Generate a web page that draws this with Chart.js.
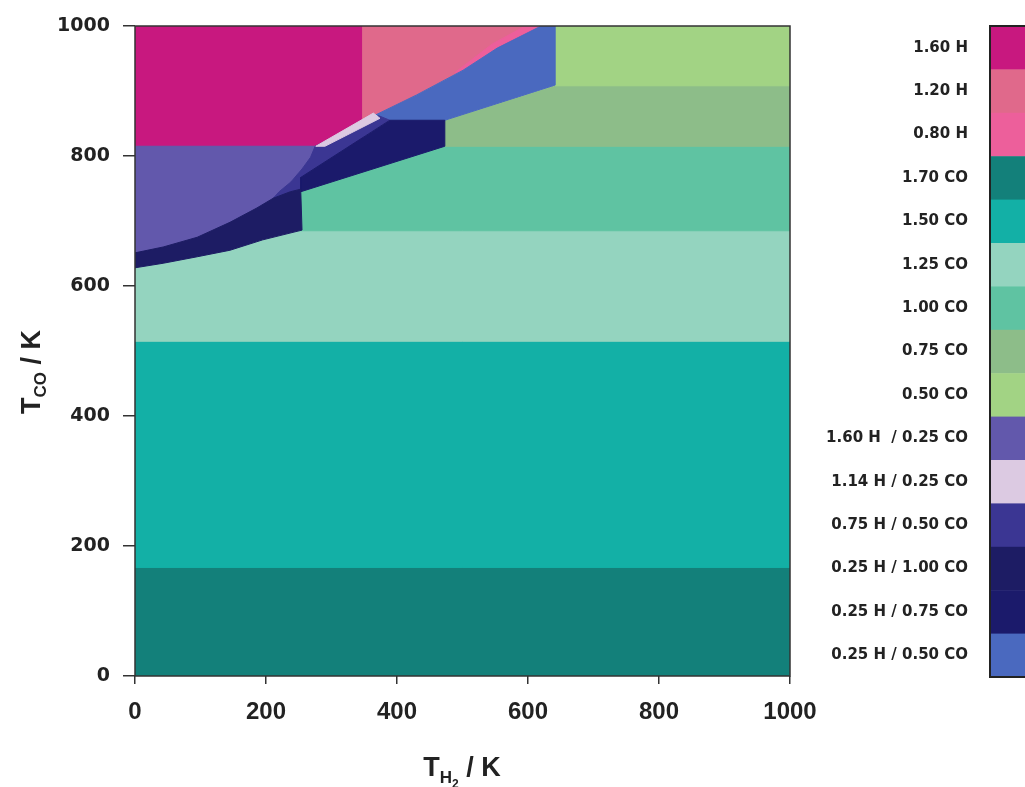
<!DOCTYPE html>
<html>
<head>
<meta charset="utf-8">
<script src="https://cdn.jsdelivr.net/npm/chart.js@4.4.1/dist/chart.umd.min.js"></script>
<style>
  html, body { margin: 0; padding: 0; background: #fff; }
  #wrap { width: 1025px; height: 787px; position: relative; }
</style>
</head>
<body>
<div id="wrap"><canvas id="phase"></canvas></div>
<script>
// legend entries (top to bottom) and their colours
const phaseLabels = [
  '1.60 H', '1.20 H', '0.80 H',
  '1.70 CO', '1.50 CO', '1.25 CO', '1.00 CO', '0.75 CO', '0.50 CO',
  '1.60 H  / 0.25 CO', '1.14 H / 0.25 CO', '0.75 H / 0.50 CO',
  '0.25 H / 1.00 CO', '0.25 H / 0.75 CO', '0.25 H / 0.50 CO'
];
const phaseColors = [
  '#c8187f', '#e0698b', '#ed5f9b',
  '#13807a', '#13b0a6', '#94d4bf', '#5fc3a2', '#8dbd89', '#a2d384',
  '#6258ac', '#dccae2', '#3b3693',
  '#1d1c64', '#1b1a6b', '#4a69bf'
];

const axisTicks = [0, 200, 400, 600, 800, 1000];

// phase boundaries, [T_H2, T_CO] in K
const regCO170 = [[0, 0], [1000, 0], [1000, 167], [0, 167]];
const regCO150 = [[0, 167], [1000, 167], [1000, 515], [0, 515]];
const regCO125 = [[0, 515], [1000, 515], [1000, 685], [0, 685]];
const regCO100 = [[0, 685], [1000, 685], [1000, 815], [0, 815]];
const regCO075 = [[473, 815], [1000, 815], [1000, 908], [641, 908], [473, 855]];
const regCO050 = [[641, 908], [1000, 908], [1000, 1000], [641, 1000]];
const regH160 = [[0, 815], [348, 815], [348, 1000], [0, 1000]];
const regH120 = [[348, 850], [372, 864], [430, 894], [501, 932], [553, 966], [620, 1000], [348, 1000]];
const regH080 = [[488, 928], [501, 932], [553, 966], [620, 1000], [596, 1000], [545, 972]];
const regH050CO = [[365, 862], [430, 894], [501, 932], [553, 966], [620, 1000], [641, 1000], [641, 909], [473, 855], [389, 855]];
const regH160CO = [[0, 640], [0, 815], [280, 815], [268, 798], [255, 780], [238, 760], [220, 745], [211, 735],
  [186, 720], [145, 698], [95, 675], [43, 660], [0, 651]];
const regH075CO = [[275, 815], [372, 862], [389, 855], [253, 767], [253, 749], [237, 745], [211, 735], [220, 745],
  [238, 760], [255, 780], [268, 798]];
const regH025CO075 = [[253, 745], [473, 815], [473, 855], [389, 855], [253, 767]];
const regH025CO100 = [[0, 651], [43, 660], [95, 675], [145, 698], [186, 720], [211, 735], [237, 745], [253, 749],
  [255, 686], [195, 671], [145, 655], [95, 645], [43, 635], [0, 628]];
const regH114CO = [[276, 815], [290, 815], [374, 858], [364, 866]];

// drawing order, bottom first: [polygon, legend index]
const layers = [
  [regCO170, 3], [regCO150, 4], [regCO125, 5], [regCO100, 6], [regCO075, 7], [regCO050, 8],
  [regH160, 0], [regH120, 1], [regH080, 2], [regH050CO, 14], [regH160CO, 9],
  [regH075CO, 11], [regH025CO075, 13], [regH025CO100, 12], [regH114CO, 10]
];

const datasets = layers.map(([pts, k], i) => {
  const col = phaseColors[k];
  const data = pts.map(p => ({ x: p[0], y: p[1] }));
  data.push({ x: pts[0][0], y: pts[0][1] });
  return {
    label: phaseLabels[k],
    data: data,
    backgroundColor: col,
    borderColor: col,
    borderWidth: 1,
    fill: 'shape',
    pointRadius: 0,
    tension: 0,
    order: -i
  };
});

function drawParts(ctx, parts, cx, cy) {
  let total = 0;
  parts.forEach(p => {
    ctx.font = 'bold ' + p.size + 'px "Liberation Sans", Arial, sans-serif';
    p.w = ctx.measureText(p.t).width;
    total += p.w;
  });
  let x = cx - total / 2;
  ctx.textAlign = 'left';
  ctx.textBaseline = 'alphabetic';
  parts.forEach(p => {
    ctx.font = 'bold ' + p.size + 'px "Liberation Sans", Arial, sans-serif';
    ctx.fillText(p.t, x, cy + p.dy);
    x += p.w;
  });
}

const decor = {
  id: 'decor',
  afterDatasetsDraw(chart) {
    const { ctx, chartArea: a } = chart;
    ctx.save();
    ctx.strokeStyle = '#333';
    ctx.lineWidth = 1.5;
    ctx.strokeRect(a.left, a.top, a.right - a.left, a.bottom - a.top);
    ctx.restore();
  },
  afterDraw(chart) {
    const { ctx, chartArea: a } = chart;
    ctx.save();
    ctx.fillStyle = '#222';

    // axis titles
    drawParts(ctx, [
      { t: 'T', size: 27, dy: 0 },
      { t: 'H', size: 17, dy: 7 },
      { t: '2', size: 12, dy: 12 },
      { t: ' / K', size: 27, dy: 0 }
    ], 462, 776);

    ctx.save();
    ctx.translate(40, 372);
    ctx.rotate(-Math.PI / 2);
    drawParts(ctx, [
      { t: 'T', size: 27, dy: 0 },
      { t: 'CO', size: 17, dy: 6 },
      { t: ' / K', size: 27, dy: 0 }
    ], 0, 0);
    ctx.restore();

    // colour bar legend
    const top = a.top, bottom = 677, x0 = 990;
    const h = (bottom - top) / phaseLabels.length;
    phaseLabels.forEach((lab, i) => {
      ctx.fillStyle = phaseColors[i];
      ctx.fillRect(x0, top + i * h, 40, h + 0.5);
      ctx.fillStyle = '#222';
      ctx.font = 'bold 15px "DejaVu Sans", sans-serif';
      ctx.textAlign = 'right';
      ctx.textBaseline = 'middle';
      ctx.fillText(lab, 968, top + (i + 0.5) * h);
    });
    ctx.strokeStyle = '#222';
    ctx.lineWidth = 2;
    ctx.strokeRect(x0, top, 40, bottom - top);
    ctx.restore();
  }
};

new Chart(document.getElementById('phase'), {
  type: 'line',
  data: { datasets: datasets },
  options: {
    responsive: true,
    maintainAspectRatio: false,
    animation: false,
    layout: { padding: { top: 26, right: 235, bottom: 0, left: 0 } },
    plugins: { legend: { display: false }, tooltip: { enabled: false } },
    scales: {
      x: {
        type: 'linear',
        min: 0, max: 1000,
        afterBuildTicks: s => { s.ticks = axisTicks.map(v => ({ value: v })); },
        afterFit: s => { s.height = 111; },
        border: { display: false },
        grid: { drawOnChartArea: false, drawTicks: true, tickLength: 8, color: '#333', lineWidth: 1.5 },
        ticks: {
          color: '#222', padding: 14,
          callback: v => String(v),
          font: { family: '"Liberation Sans", Arial, sans-serif', size: 24, weight: 'bold' }
        }
      },
      y: {
        type: 'linear',
        min: 0, max: 1000,
        afterBuildTicks: s => { s.ticks = axisTicks.map(v => ({ value: v })); },
        afterFit: s => { s.width = 135; },
        border: { display: false },
        grid: { drawOnChartArea: false, drawTicks: true, tickLength: 12, color: '#333', lineWidth: 1.5 },
        ticks: {
          color: '#222', padding: 13,
          callback: v => String(v),
          font: { family: '"DejaVu Sans", sans-serif', size: 19, weight: 'bold' }
        }
      }
    }
  },
  plugins: [decor]
});
</script>
</body>
</html>
